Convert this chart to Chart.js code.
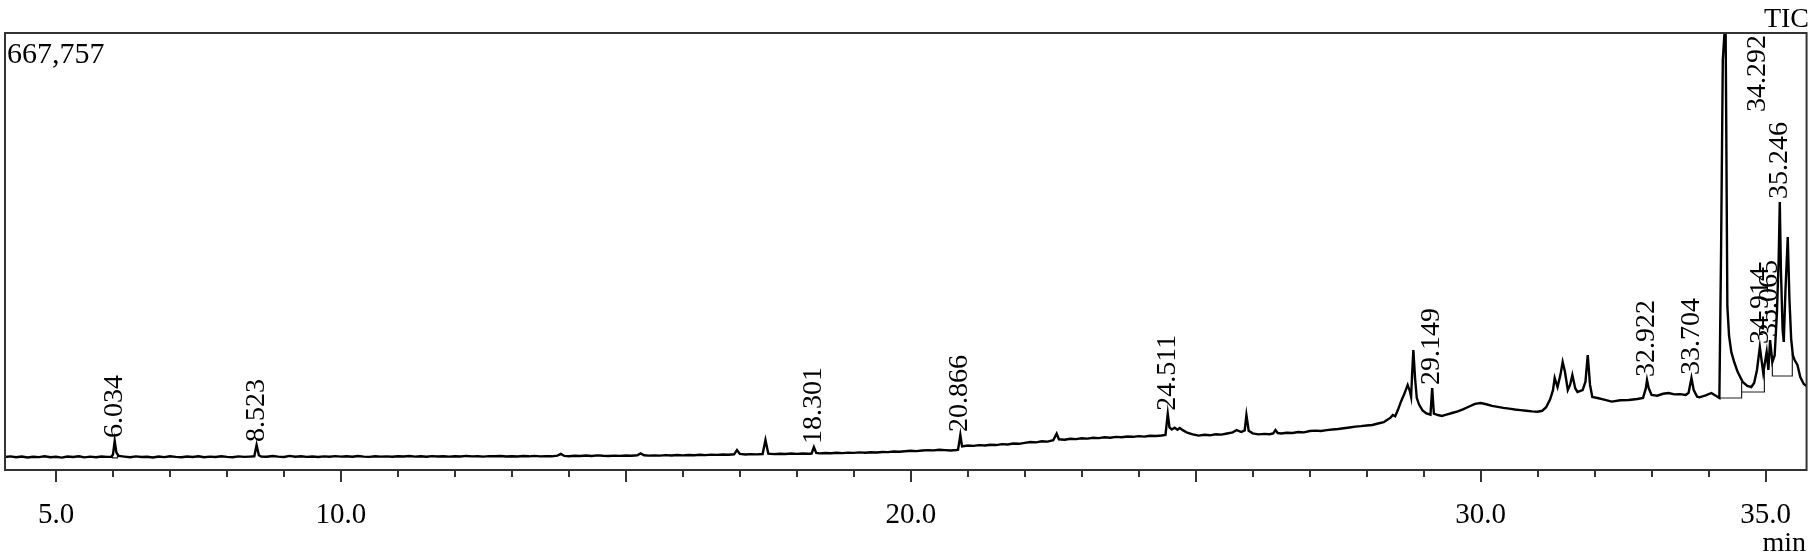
<!DOCTYPE html>
<html>
<head>
<meta charset="utf-8">
<title>TIC</title>
<script src="https://cdn.jsdelivr.net/npm/chart.js@4.4.1/dist/chart.umd.min.js"></script>
<style>
    html, body { margin: 0; padding: 0; background: #fff; }
    #wrap { position: relative; width: 1811px; height: 559px; }
</style>
</head>
<body>
<div id="wrap"><canvas id="ticChart"></canvas></div>
<script>
// ========== 数据 ==========
// 保留时间 (min)
const retentionTime = [
    4.10, 4.20, 4.30, 4.40, 4.50, 4.60, 4.70, 4.80, 4.90, 5.00,
    5.10, 5.20, 5.30, 5.40, 5.50, 5.60, 5.70, 5.80, 5.90, 5.97,
    6.00, 6.03, 6.06, 6.10, 6.20, 6.30, 6.40, 6.50, 6.60, 6.70,
    6.80, 6.90, 7.00, 7.10, 7.20, 7.30, 7.40, 7.50, 7.60, 7.70,
    7.80, 7.90, 8.00, 8.10, 8.20, 8.30, 8.40, 8.48, 8.52, 8.56,
    8.60, 8.70, 8.80, 8.90, 9.00, 9.10, 9.20, 9.30, 9.40, 9.50,
    9.60, 9.70, 9.80, 9.90, 10.00, 10.10, 10.20, 10.30, 10.40, 10.50,
    10.60, 10.70, 10.80, 10.90, 11.00, 11.10, 11.20, 11.30, 11.40, 11.50,
    11.60, 11.70, 11.80, 11.90, 12.00, 12.10, 12.20, 12.30, 12.40, 12.50,
    12.60, 12.70, 12.80, 12.90, 13.00, 13.10, 13.20, 13.30, 13.40, 13.50,
    13.60, 13.70, 13.80, 13.86, 13.92, 14.00, 14.10, 14.20, 14.30, 14.40,
    14.50, 14.60, 14.70, 14.80, 14.90, 15.00, 15.10, 15.20, 15.26, 15.32,
    15.40, 15.50, 15.60, 15.70, 15.80, 15.90, 16.00, 16.10, 16.20, 16.30,
    16.40, 16.50, 16.60, 16.70, 16.80, 16.90, 16.95, 17.00, 17.10, 17.20,
    17.30, 17.40, 17.45, 17.50, 17.60, 17.70, 17.80, 17.90, 18.00, 18.10,
    18.20, 18.26, 18.30, 18.34, 18.40, 18.50, 18.60, 18.70, 18.80, 18.90,
    19.00, 19.10, 19.20, 19.30, 19.40, 19.50, 19.60, 19.70, 19.80, 19.90,
    20.00, 20.10, 20.20, 20.30, 20.40, 20.50, 20.60, 20.70, 20.80, 20.83,
    20.87, 20.90, 21.00, 21.10, 21.20, 21.30, 21.40, 21.50, 21.60, 21.70,
    21.80, 21.90, 22.00, 22.10, 22.20, 22.30, 22.40, 22.50, 22.56, 22.60,
    22.70, 22.80, 22.90, 23.00, 23.10, 23.20, 23.30, 23.40, 23.50, 23.60,
    23.70, 23.80, 23.90, 24.00, 24.10, 24.20, 24.30, 24.40, 24.47, 24.51,
    24.54, 24.58, 24.63, 24.68, 24.72, 24.78, 24.85, 24.95, 25.05, 25.15,
    25.25, 25.35, 25.45, 25.55, 25.65, 25.72, 25.80, 25.86, 25.89, 25.93,
    26.00, 26.10, 26.20, 26.30, 26.36, 26.40, 26.44, 26.50, 26.60, 26.70,
    26.80, 26.90, 27.00, 27.10, 27.20, 27.30, 27.40, 27.50, 27.60, 27.70,
    27.80, 27.90, 28.00, 28.10, 28.20, 28.30, 28.35, 28.42, 28.46, 28.50,
    28.55, 28.60, 28.66, 28.72, 28.76, 28.78, 28.80, 28.82, 28.85, 28.88,
    28.92, 28.98, 29.05, 29.12, 29.15, 29.18, 29.25, 29.32, 29.40, 29.50,
    29.60, 29.70, 29.80, 29.90, 30.00, 30.10, 30.20, 30.30, 30.40, 30.50,
    30.60, 30.70, 30.80, 30.90, 31.00, 31.08, 31.15, 31.22, 31.27, 31.30,
    31.35, 31.40, 31.44, 31.48, 31.53, 31.57, 31.61, 31.66, 31.70, 31.79,
    31.84, 31.88, 31.92, 31.96, 32.05, 32.15, 32.30, 32.45, 32.60, 32.75,
    32.85, 32.90, 32.92, 32.95, 33.00, 33.10, 33.20, 33.30, 33.40, 33.50,
    33.60, 33.65, 33.70, 33.74, 33.80, 33.84, 33.95, 34.05, 34.12, 34.16,
    34.19, 34.22, 34.25, 34.28, 34.30, 34.31, 34.33, 34.36, 34.40, 34.45,
    34.51, 34.60, 34.68, 34.75, 34.80, 34.85, 34.90, 34.93, 34.96, 35.02,
    35.05, 35.08, 35.12, 35.16, 35.20, 35.23, 35.25, 35.27, 35.30, 35.32,
    35.35, 35.39, 35.42, 35.45, 35.48, 35.51, 35.56, 35.61, 35.67, 35.72
];

// TIC 强度
const ticIntensity = [
    19900, 20800, 19400, 20500, 19100, 20300, 19700, 21000, 19500, 20200,
    19000, 20600, 19800, 20900, 19300, 20400, 19600, 20700, 20000, 20300,
    23500, 44300, 26500, 21500, 20500, 19600, 20800, 19900, 20300, 19200,
    20600, 19700, 21100, 20000, 19400, 20700, 19800, 20900, 19500, 20400,
    19900, 21000, 20100, 19600, 20800, 20000, 20500, 21000, 38200, 22500,
    20700, 20200, 21300, 20400, 19800, 21600, 20300, 20900, 20100, 20600,
    19900, 20800, 20300, 21200, 20400, 20900, 20200, 21400, 20500, 20100,
    21000, 20400, 20800, 20200, 21100, 20600, 21300, 20500, 20900, 20300,
    21200, 20700, 21000, 20400, 20900, 20600, 21500, 20800, 21100, 20500,
    21200, 20900, 21400, 20600, 21000, 20700, 21300, 20900, 21600, 20800,
    21200, 20900, 21900, 24600, 21500, 21000, 21800, 21300, 22100, 21500,
    22300, 21700, 21400, 22000, 21600, 22200, 21800, 22500, 25300, 22600,
    21900, 22300, 22000, 22700, 22200, 22900, 22400, 23000, 22600, 23200,
    22800, 23500, 23100, 23700, 23300, 24000, 30500, 24500, 23800, 24200,
    23900, 24400, 46000, 25000, 24200, 24800, 24400, 25100, 24600, 25300,
    24900, 25200, 35000, 26000, 25400, 26000, 25500, 26300, 25800, 26600,
    26100, 26900, 26400, 27200, 26800, 27600, 27300, 28200, 27800, 28700,
    29300, 28900, 29800, 30400, 30000, 30900, 30300, 29800, 30600, 31000,
    53500, 36000, 37500, 36900, 38000, 37400, 38600, 38100, 39500, 39000,
    40400, 40000, 41500, 42800, 42200, 44000, 43400, 45500, 55500, 47000,
    46300, 47800, 47200, 48500, 48000, 49200, 48700, 50000, 49400, 50600,
    50100, 51200, 50700, 51800, 51000, 52400, 51900, 52700, 53500, 86000,
    65000, 62000, 64500, 61500, 64200, 60500, 57000, 54500, 52500, 53800,
    53000, 54600, 54000, 55800, 57500, 61000, 58000, 60500, 84000, 60000,
    56000, 54500, 55200, 54600, 56000, 61000, 56500, 55800, 57000, 56500,
    58000, 57500, 59500, 60200, 59600, 61000, 61800, 62600, 63800, 65000,
    66200, 67000, 68000, 68800, 71000, 73000, 76000, 80000, 84000, 82000,
    92000, 104000, 116000, 130000, 120000, 112000, 150000, 183400, 140000, 110000,
    100000, 91000, 86500, 84500, 125300, 86000, 84000, 82500, 84500, 87100,
    89500, 93000, 97000, 101000, 102400, 100500, 98000, 96500, 95000, 93800,
    92500, 91500, 90500, 89500, 89000, 90500, 96000, 108000, 122000, 140600,
    126800, 145000, 165000, 150000, 122200, 130000, 145200, 125000, 119200, 122200,
    135000, 175700, 130000, 111500, 110000, 108000, 104500, 106500, 107000, 108500,
    110000, 125000, 137500, 125000, 114600, 113500, 116500, 117700, 115500, 116000,
    114600, 118000, 140600, 122000, 112000, 111000, 114000, 117700, 114000, 111500,
    110000, 336200, 626500, 667757, 667757, 534800, 250000, 205000, 180000, 165000,
    150000, 134500, 128400, 126800, 133000, 152800, 187900, 168100, 148200, 180300,
    152800, 198600, 165000, 175000, 240000, 320900, 409500, 305600, 213900, 195600,
    275000, 356000, 259800, 200000, 175000, 168100, 160400, 142100, 131400, 128400
];

// 积分基线（null 断开）
const integTime = [5.99, 5.99, 6.08, 6.08, null, 34.19, 34.58, 34.58, null, 34.58, 34.98, 34.98, null, 35.12, 35.12, 35.47, 35.47];
const integLevel = [23000, 18400, 18400, 24000, null, 110000, 110000, 135000, null, 119200, 119200, 160000, null, 165000, 143600, 143600, 178000];

// 峰标注
const peakTimes = [6.034, 8.523, 18.301, 20.866, 24.511, 29.149, 32.922, 33.704, 34.292, 34.914, 35.065, 35.246];

// 坐标轴
const fullScale = 667757;
const timeMin = 4.105;
const timeMax = 35.72;
const labeledTicks = [5, 10, 20, 30, 35];
const minuteTicks = [5, 6, 7, 8, 9, 10, 11, 12, 13, 14, 15, 16, 17, 18, 19, 20,
    21, 22, 23, 24, 25, 26, 27, 28, 29, 30, 31, 32, 33, 34, 35];

const SERIF = '"Liberation Serif", "DejaVu Serif", serif';

// ========== 插件：边框、刻度、文字 ==========
const chromPlugin = {
    id: 'chrom',
    afterDatasetsDraw(chart) {
        const ctx = chart.ctx;
        const area = chart.chartArea;
        const xs = chart.scales.x;
        const ys = chart.scales.y;

        ctx.save();

        // 边框
        ctx.strokeStyle = '#333';
        ctx.lineWidth = 2;
        ctx.strokeRect(area.left, area.top, area.right - area.left, area.bottom - area.top);

        // 刻度线
        ctx.strokeStyle = '#333';
        ctx.lineWidth = 2;
        minuteTicks.forEach(t => {
            const px = Math.round(xs.getPixelForValue(t));
            const len = t % 5 === 0 ? 12 : 7;
            ctx.beginPath();
            ctx.moveTo(px, area.bottom);
            ctx.lineTo(px, area.bottom + len);
            ctx.stroke();
        });

        ctx.fillStyle = '#000';

        // 满量程数值
        ctx.font = '30px ' + SERIF;
        ctx.textAlign = 'left';
        ctx.textBaseline = 'alphabetic';
        ctx.fillText(fullScale.toLocaleString('en-US'), area.left + 2, area.top + 30);

        // TIC / min
        ctx.font = '28px ' + SERIF;
        ctx.textAlign = 'right';
        ctx.fillText('TIC', chart.width - 2, area.top - 6);
        ctx.fillText('min', chart.width - 5, chart.height - 8);

        // 峰标注（竖排）
        ctx.font = '28px ' + SERIF;
        ctx.textAlign = 'left';
        ctx.textBaseline = 'middle';
        peakTimes.forEach(pt => {
            let apex = 0;
            retentionTime.forEach((t, i) => {
                if (Math.abs(t - pt) <= 0.035 && ticIntensity[i] > apex) apex = ticIntensity[i];
            });
            const label = pt.toFixed(3);
            let px = xs.getPixelForValue(pt);
            let py = ys.getPixelForValue(apex) - 3;
            if (apex >= fullScale) {
                // 被截顶的峰：标注移到右侧顶端
                px += 32;
                py = area.top + ctx.measureText(label).width + 2;
            }
            ctx.save();
            ctx.translate(px, py);
            ctx.rotate(-Math.PI / 2);
            ctx.fillText(label, 0, 0);
            ctx.restore();
        });

        ctx.restore();
    }
};

// ========== 图表 ==========
const tracePoints = retentionTime.map((t, i) => ({ x: t, y: ticIntensity[i] }));
const integPoints = integTime.map((t, i) => ({ x: t, y: integLevel[i] }));

new Chart(document.getElementById('ticChart'), {
    type: 'scatter',
    data: {
        datasets: [
            {
                label: 'TIC',
                data: tracePoints,
                showLine: true,
                borderColor: '#000',
                borderWidth: 2.4,
                pointRadius: 0,
                tension: 0
            },
            {
                label: 'baseline',
                data: integPoints,
                showLine: true,
                spanGaps: false,
                borderColor: '#222',
                borderWidth: 1.2,
                pointRadius: 0,
                tension: 0
            }
        ]
    },
    options: {
        responsive: true,
        maintainAspectRatio: false,
        animation: false,
        layout: { padding: { left: 5, right: 4, top: 33, bottom: 0 } },
        plugins: {
            legend: { display: false },
            tooltip: { enabled: false }
        },
        scales: {
            x: {
                type: 'linear',
                min: timeMin,
                max: timeMax,
                grid: { display: false },
                border: { display: false },
                afterBuildTicks: scale => {
                    scale.ticks = labeledTicks.map(v => ({ value: v }));
                },
                afterFit: scale => { scale.height = 89; },
                ticks: {
                    autoSkip: false,
                    maxRotation: 0,
                    padding: 20,
                    color: '#000',
                    font: { family: SERIF, size: 29 },
                    callback: v => v.toFixed(1)
                }
            },
            y: {
                display: false,
                min: 0,
                max: fullScale
            }
        }
    },
    plugins: [chromPlugin]
});
</script>
</body>
</html>
